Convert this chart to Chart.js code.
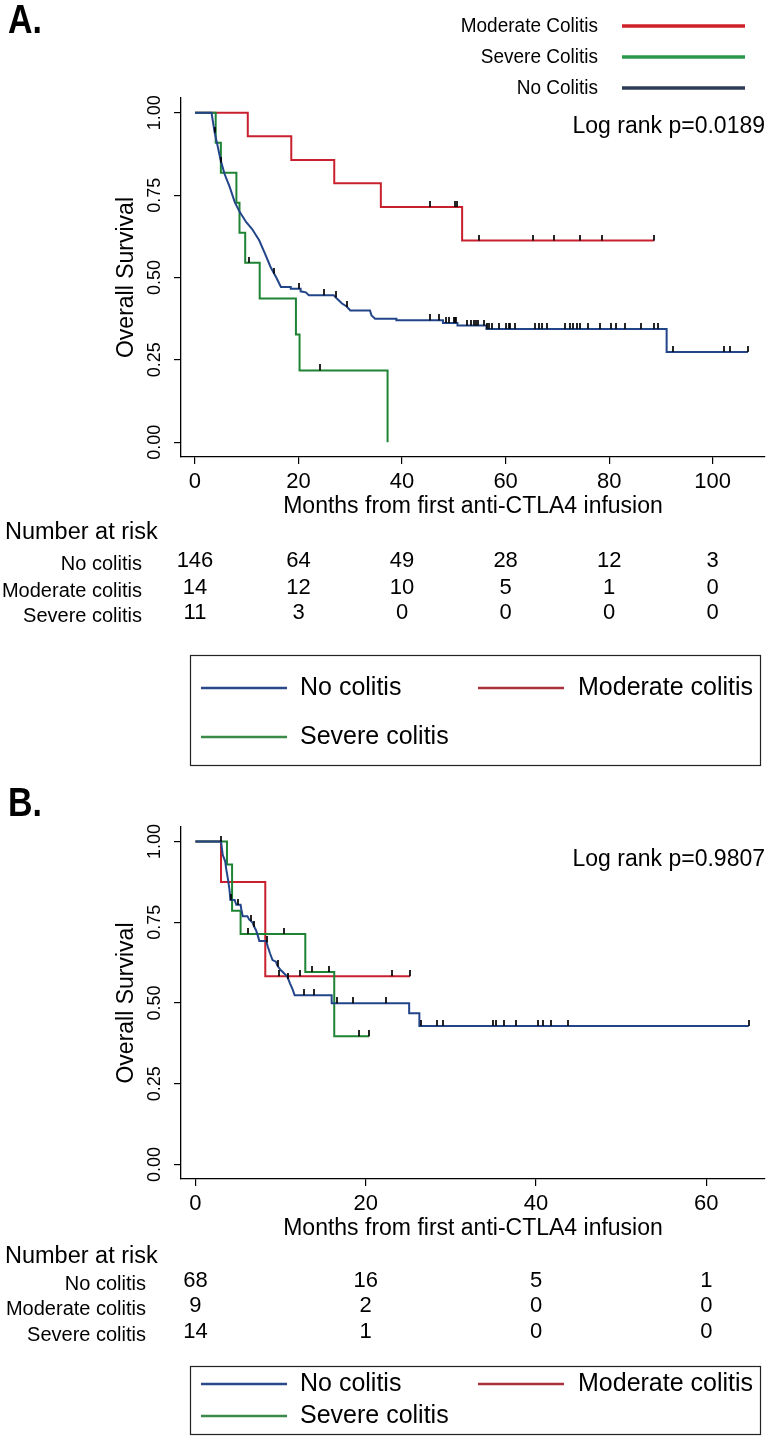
<!DOCTYPE html>
<html>
<head>
<meta charset="utf-8">
<script src="https://cdn.jsdelivr.net/npm/chart.js@4.4.0/dist/chart.umd.min.js"></script>
<style>
  body { margin: 0; background: #fff; width: 770px; height: 1438px; overflow: hidden; }
  .panel { position: absolute; left: 0; width: 770px; }
  #wrapA { top: 0; height: 780px; }
  #wrapB { top: 780px; height: 658px; }
</style>
</head>
<body>
<div class="panel" id="wrapA"><canvas id="chartA" width="770" height="780"></canvas></div>
<div class="panel" id="wrapB"><canvas id="chartB" width="770" height="658"></canvas></div>
<script>
// ---- Panel A data (months, survival) ----
const aNoT = [0, 3.2, 3.8, 4.3, 4.9, 5.7, 6.7, 7.7, 8.6, 9.9, 11.0, 12.4, 13.5, 14.6, 15.7, 16.6,
  18.5, 18.5, 20.4, 20.4, 21.4, 22.0, 26.8, 27.4, 28.4, 29.3, 30.0, 33.8, 34.1, 34.8,
  38.9, 38.9, 47.9, 47.9, 50.7, 50.7, 56.3, 56.3, 91.1, 91.1, 106.8];
const aNoS = [1, 1, 0.94, 0.905, 0.86, 0.815, 0.775, 0.728, 0.700, 0.668, 0.648, 0.613, 0.573, 0.532, 0.500, 0.471,
  0.471, 0.466, 0.466, 0.458, 0.455, 0.446, 0.446, 0.436, 0.421, 0.412, 0.400, 0.400, 0.385, 0.375,
  0.375, 0.370, 0.370, 0.362, 0.362, 0.354, 0.354, 0.344, 0.344, 0.274, 0.274];
const aNoCens = [3.8, 5.1, 15.3, 20.1, 24.9, 27.2, 29.4, 45.4, 47.2, 48.5, 49.1, 50.0, 50.2, 50.4, 52.5,
  53.3, 53.9, 54.2, 54.7, 55.8, 56.5, 56.8, 57.4, 58.7, 60.0, 60.6, 60.9, 61.9, 65.7, 66.4, 67.0, 68.0,
  71.5, 72.4, 73.1, 73.7, 74.3, 76.0, 78.2, 80.4, 81.4, 83.0, 86.2, 88.7, 89.5, 92.3, 102.2, 103.4, 106.8];

const aModT = [0, 10.2, 18.6, 26.9, 35.9, 51.6, 88.7];
const aModS = [1, 0.929, 0.857, 0.786, 0.714, 0.612, 0.612];
const aModCens = [45.4, 50.2, 50.7, 54.8, 65.3, 69.3, 74.4, 78.7, 88.7];

const aSevT = [0, 4.0, 5.0, 8.0, 8.6, 9.7, 12.5, 19.5, 20.2, 37.2];
const aSevS = [1, 0.909, 0.818, 0.727, 0.636, 0.545, 0.436, 0.327, 0.218, 0];
const aSevCens = [10.5, 24.1];

const aRiskTimes = [0, 20, 40, 60, 80, 100];
const aRiskNo = [146, 64, 49, 28, 12, 3];
const aRiskMod = [14, 12, 10, 5, 1, 0];
const aRiskSev = [11, 3, 0, 0, 0, 0];

// ---- Panel B data ----
const bNoT = [0, 3.0, 3.2, 3.5, 3.6, 3.8, 4.0, 4.1, 4.6, 4.8, 5.3, 5.4, 5.55, 6.1, 6.3, 6.7, 6.9, 7.1, 7.3, 7.5,
  8.3, 8.5, 8.75, 9.05, 9.45, 9.6, 10.0, 10.4, 10.8, 11.1, 11.4, 11.65, 16.0, 16.0, 25.1, 25.1, 26.3, 26.3, 65.0];
const bNoS = [1, 1, 0.959, 0.938, 0.917, 0.886, 0.850, 0.819, 0.819, 0.804, 0.804, 0.788, 0.769, 0.769, 0.759, 0.749, 0.736, 0.726, 0.711, 0.692,
  0.692, 0.674, 0.654, 0.633, 0.628, 0.617, 0.602, 0.592, 0.581, 0.561, 0.543, 0.524, 0.524, 0.499, 0.499, 0.468, 0.468, 0.429, 0.429];
const bNoCens = [3.0, 4.2, 5.0, 6.5, 6.9, 8.35, 9.7, 10.9, 12.7, 13.9, 16.6, 18.5, 22.4, 26.5, 28.4, 29.1,
  34.9, 35.3, 36.2, 37.6, 40.2, 40.8, 41.8, 43.8, 65.0];

const bModT = [0, 3.0, 8.2, 25.2];
const bModS = [1, 0.875, 0.583, 0.583];
const bModCens = [9.8, 12.3, 23.1, 25.2];

const bSevT = [0, 3.7, 4.3, 5.3, 12.9, 16.3, 20.4];
const bSevS = [1, 0.929, 0.786, 0.714, 0.596, 0.397, 0.397];
const bSevCens = [6.2, 10.4, 13.7, 15.7, 19.2, 20.4];

const bRiskTimes = [0, 20, 40, 60];
const bRiskNo = [68, 16, 5, 1];
const bRiskMod = [9, 2, 0, 0];
const bRiskSev = [14, 1, 0, 0];

const yTicks = [0, 0.25, 0.5, 0.75, 1];
const riskLabels = ['No colitis', 'Moderate colitis', 'Severe colitis'];
const legendLabels = ['No colitis', 'Moderate colitis', 'Severe colitis'];

const SANS = '"Liberation Sans", Arial, sans-serif';
const RED = '#c8202e', GREEN = '#1e8434', BLUE = '#22458a';

// survival value on a curve at time t (for placing censor ticks)
function survAt(T, S, t, stepped) {
    let i = 0;
    while (i < T.length - 1 && T[i + 1] <= t) i++;
    if (stepped || i === T.length - 1) return S[i];
    return S[i] + (S[i + 1] - S[i]) * (t - T[i]) / (T[i + 1] - T[i]);
}

// text helper, sx squeezes horizontally
function text(ctx, str, x, y, size, align, sx, bold) {
    ctx.save();
    ctx.translate(x, y);
    ctx.scale(sx, 1);
    ctx.font = (bold ? 'bold ' : '') + size + 'px ' + SANS;
    ctx.textAlign = align;
    ctx.textBaseline = 'middle';
    ctx.fillText(str, 0, 0);
    ctx.restore();
}

// little vertical censor mark, sits on top of the line
const tickImg = (function() {
    const c = document.createElement('canvas');
    c.width = 2; c.height = 12;
    const g = c.getContext('2d');
    g.fillStyle = 'rgba(0,0,0,0.85)';
    g.fillRect(0, 0, 2, 6);
    return c;
})();

function curveSets(curves) {
    const sets = [];
    curves.forEach(cv => {
        sets.push({
            data: cv.cens.map(t => ({ x: t, y: survAt(cv.T, cv.S, t, cv.stepped) })),
            showLine: false, pointStyle: tickImg, pointRadius: 3, order: 0
        });
    });
    curves.forEach(cv => {
        sets.push({
            data: cv.T.map((t, i) => ({ x: t, y: cv.S[i] })),
            borderColor: cv.color, borderWidth: 2, pointRadius: 0,
            stepped: cv.stepped ? 'before' : false, tension: 0, order: 1
        });
    });
    return sets;
}

function axisCommon(ticks, fit) {
    return {
        type: 'linear',
        afterBuildTicks: s => { s.ticks = ticks.map(v => ({ value: v })); },
        afterFit: fit,
        grid: { drawOnChartArea: false, drawTicks: true, tickLength: 7, color: '#000', lineWidth: 1.2 },
        border: { display: true, color: '#000', width: 1.3 },
        ticks: { display: false }
    };
}

function makePanel(canvasId, cfg) {
    const textPlugin = {
        id: 'panelText',
        afterDraw(chart) {
            const ctx = chart.ctx, xs = chart.scales.x, ys = chart.scales.y, area = chart.chartArea;
            ctx.save();
            ctx.fillStyle = '#000';

            text(ctx, cfg.letter, 8, cfg.letterY, 40, 'left', 0.85, true);

            // y tick labels, rotated like Stata
            yTicks.forEach(v => {
                ctx.save();
                ctx.translate(155, ys.getPixelForValue(v));
                ctx.rotate(-Math.PI / 2);
                text(ctx, v.toFixed(2), 0, 0, 18, 'center', 1);
                ctx.restore();
            });
            ctx.save();
            ctx.translate(127, (area.top + area.bottom) / 2);
            ctx.rotate(-Math.PI / 2);
            text(ctx, 'Overall Survival', 0, 0, 23, 'center', 1);
            ctx.restore();

            // x tick labels
            cfg.xTicks.forEach(v => text(ctx, String(v), xs.getPixelForValue(v), area.bottom + 25, 22, 'center', 1));

            text(ctx, cfg.logRank, 765, cfg.logRankY, 23, 'right', 1);
            text(ctx, 'Months from first anti-CTLA4 infusion', (area.left + area.right) / 2, area.bottom + 50, 23, 'center', 1);

            // number at risk
            text(ctx, 'Number at risk', 5, cfg.riskTitleY, 23.5, 'left', 1);
            cfg.riskRows.forEach((row, r) => {
                text(ctx, riskLabels[r], cfg.riskLabelX, cfg.riskY[r] + 3, 20, 'right', 1);
                row.forEach((n, k) => text(ctx, String(n), xs.getPixelForValue(cfg.riskTimes[k]), cfg.riskY[r], 22, 'center', 1));
            });

            // legend box
            const b = cfg.box;
            ctx.strokeStyle = '#222';
            ctx.lineWidth = 1.2;
            ctx.strokeRect(190.5, b.top + 0.5, 570, b.h);
            const items = [[201, 300, b.rows[0], '#2b4a8b'], [478, 578, b.rows[0], '#a8303a'], [201, 300, b.rows[1], '#3a8a4a']];
            items.forEach((it, i) => {
                ctx.strokeStyle = it[3];
                ctx.lineWidth = 2.5;
                ctx.beginPath();
                ctx.moveTo(it[0], it[2]);
                ctx.lineTo(it[0] + 86, it[2]);
                ctx.stroke();
                text(ctx, legendLabels[i], it[1], it[2], b.font, 'left', 1);
            });

            // top legend (panel A only)
            if (cfg.topLegend) {
                cfg.topLegend.forEach(it => {
                    text(ctx, it[0], 598, it[2], 20, 'right', 0.95);
                    ctx.strokeStyle = it[1];
                    ctx.lineWidth = 3.5;
                    ctx.beginPath();
                    ctx.moveTo(622, it[2]);
                    ctx.lineTo(745, it[2]);
                    ctx.stroke();
                });
            }
            ctx.restore();
        }
    };

    const canvas = document.getElementById(canvasId);
    return new Chart(canvas.getContext('2d'), {
        type: 'line',
        data: { datasets: curveSets(cfg.curves) },
        options: {
            responsive: false,
            animation: false,
            layout: { padding: { left: 0, right: 0, top: cfg.top, bottom: canvas.height - cfg.bottom - 30 } },
            plugins: { legend: { display: false }, tooltip: { enabled: false } },
            scales: {
                x: Object.assign(axisCommon(cfg.xTicks, s => { s.height = 30; }), { min: cfg.xMin, max: cfg.xMax }),
                y: Object.assign(axisCommon(yTicks, s => { s.width = 181; }), { min: -0.045, max: 1.045 })
            }
        },
        plugins: [textPlugin]
    });
}

makePanel('chartA', {
    letter: 'A.', letterY: 22,
    top: 98, bottom: 457, xMin: -2.7, xMax: 110.1, xTicks: [0, 20, 40, 60, 80, 100],
    curves: [
        { T: aNoT, S: aNoS, cens: aNoCens, stepped: false, color: BLUE },
        { T: aSevT, S: aSevS, cens: aSevCens, stepped: true, color: GREEN },
        { T: aModT, S: aModS, cens: aModCens, stepped: true, color: RED }
    ],
    logRank: 'Log rank p=0.0189', logRankY: 127,
    riskTitleY: 533, riskLabelX: 142, riskY: [561, 588, 613],
    riskTimes: aRiskTimes, riskRows: [aRiskNo, aRiskMod, aRiskSev],
    box: { top: 655, h: 110, rows: [688, 737], font: 25 },
    topLegend: [['Moderate Colitis', '#d0202a', 26], ['Severe Colitis', '#2a9a4a', 57], ['No Colitis', '#2d3b55', 88]]
});

makePanel('chartB', {
    letter: 'B.', letterY: 25,
    top: 47, bottom: 399, xMin: -1.7, xMax: 66.9, xTicks: [0, 20, 40, 60],
    curves: [
        { T: bNoT, S: bNoS, cens: bNoCens, stepped: false, color: BLUE },
        { T: bSevT, S: bSevS, cens: bSevCens, stepped: true, color: GREEN },
        { T: bModT, S: bModS, cens: bModCens, stepped: true, color: RED }
    ],
    logRank: 'Log rank p=0.9807', logRankY: 80,
    riskTitleY: 477, riskLabelX: 146, riskY: [501, 526, 552],
    riskTimes: bRiskTimes, riskRows: [bRiskNo, bRiskMod, bRiskSev],
    box: { top: 586, h: 68, rows: [604, 636], font: 25 },
    topLegend: null
});
</script>
</body>
</html>
